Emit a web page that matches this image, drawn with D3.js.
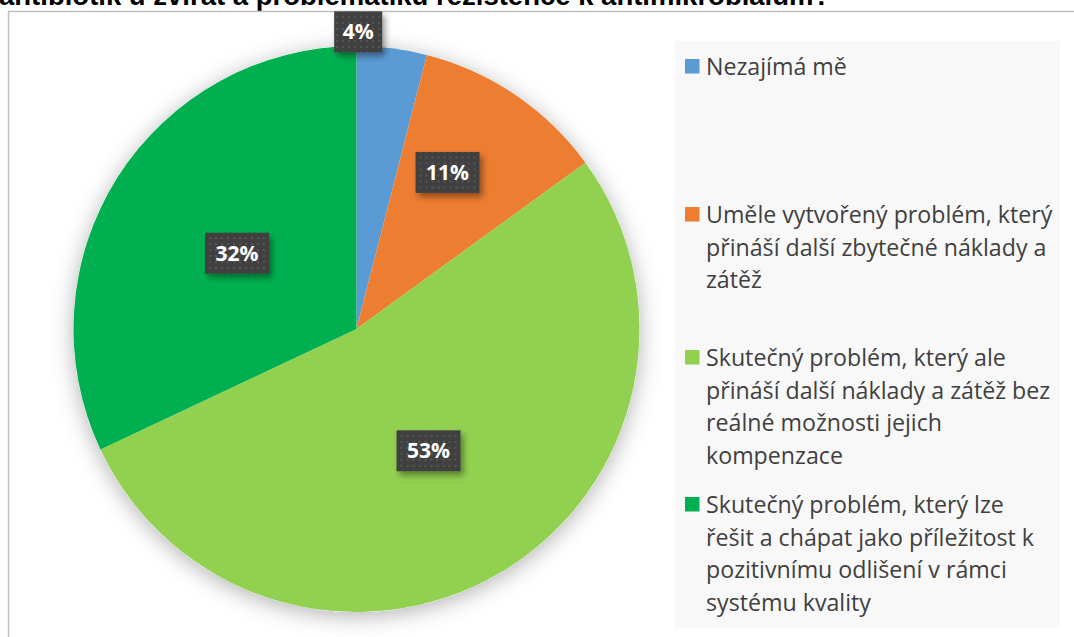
<!DOCTYPE html>
<html>
<head>
<meta charset="utf-8">
<script src="https://cdn.jsdelivr.net/npm/d3@7"></script>
<style>
  html, body { margin: 0; padding: 0; background: #ffffff; }
  svg { display: block; }
</style>
</head>
<body>
<svg id="chart" width="1074" height="637"></svg>
<script>
// ---- data ----
const categories = [
  "Nezajímá mě",
  "Uměle vytvořený problém, který přináší další zbytečné náklady a zátěž",
  "Skutečný problém, který ale přináší další náklady a zátěž bez reálné možnosti jejich kompenzace",
  "Skutečný problém, který lze řešit a chápat jako příležitost k pozitivnímu odlišení v rámci systému kvality"
];
const legendLines = [
  ["Nezajímá mě"],
  ["Uměle vytvořený problém, který", "přináší další zbytečné náklady a", "zátěž"],
  ["Skutečný problém, který ale", "přináší další náklady a zátěž bez", "reálné možnosti jejich", "kompenzace"],
  ["Skutečný problém, který lze", "řešit a chápat jako příležitost k", "pozitivnímu odlišení v rámci", "systému kvality"]
];
const values = [4, 11, 53, 32];
const valueLabels = ["4%", "11%", "53%", "32%"];
const colors = ["#5B9BD5", "#ED7D31", "#92D050", "#00B050"];
const titleText = "antibiotik u zvířat a problematiku rezistence k antimikrobiálům?";

// ---- layout ----
const svg = d3.select("#chart");
const cx = 356.5, cy = 329, R = 283;

const defs = svg.append("defs");
const shadow = defs.append("filter").attr("id", "pieShadow")
  .attr("x", "-20%").attr("y", "-20%").attr("width", "140%").attr("height", "140%");
shadow.append("feDropShadow").attr("dx", 0).attr("dy", 4)
  .attr("stdDeviation", 11).attr("flood-color", "#000").attr("flood-opacity", 0.3);

const lblShadow = defs.append("filter").attr("id", "lblShadow")
  .attr("x", "-30%").attr("y", "-30%").attr("width", "170%").attr("height", "170%");
lblShadow.append("feDropShadow").attr("dx", 3).attr("dy", 4)
  .attr("stdDeviation", 3).attr("flood-color", "#000").attr("flood-opacity", 0.4);

const pat = defs.append("pattern").attr("id", "dots")
  .attr("patternUnits", "userSpaceOnUse").attr("width", 6).attr("height", 6);
pat.append("rect").attr("width", 6).attr("height", 6).attr("fill", "#3f3f3f");
pat.append("rect").attr("x", 2).attr("y", 2).attr("width", 2).attr("height", 2).attr("fill", "#575757");

// title (cut off at top, as in the source)
svg.append("text")
  .attr("x", -1).attr("y", 5)
  .attr("font-family", "'Liberation Sans', Arial, sans-serif")
  .attr("font-weight", "bold").attr("font-size", 27.5)
  .attr("fill", "#000")
  .text(titleText);

// frame
svg.append("path")
  .attr("d", "M8.5,637 L8.5,11.5 L1074,11.5")
  .attr("fill", "none").attr("stroke", "#bfbfbf").attr("stroke-width", 1.5);

// legend background
svg.append("rect").attr("x", 675).attr("y", 41).attr("width", 385).attr("height", 587)
  .attr("fill", "#f8f8f8");

// pie
const pie = d3.pie().sort(null).value(d => d);
const arcs = pie(values);
const arc = d3.arc().innerRadius(0).outerRadius(R);

const g = svg.append("g").attr("transform", `translate(${cx},${cy})`);
g.append("circle").attr("r", R).attr("fill", "#ffffff").attr("filter", "url(#pieShadow)");
g.selectAll("path.slice").data(arcs).enter().append("path")
  .attr("class", "slice")
  .attr("d", arc)
  .attr("fill", (d, i) => colors[i]);

// data labels
const labelRadius = [1.05, 0.64, 0.5, 0.5];
const labelAngleShift = [-0.12, -0.07, 0, 0];
const lg = g.append("g");
arcs.forEach((d, i) => {
  const a = (d.startAngle + d.endAngle) / 2 + labelAngleShift[i];
  const r = R * labelRadius[i];
  const x = r * Math.sin(a), y = -r * Math.cos(a);
  const t = valueLabels[i];
  const w = t.length === 2 ? 48 : 64, h = 41;
  const bx = lg.append("g").attr("transform", `translate(${x},${y})`);
  bx.append("rect").attr("x", -w / 2).attr("y", -h / 2).attr("width", w).attr("height", h)
    .attr("fill", "url(#dots)").attr("filter", "url(#lblShadow)");
  bx.append("text").attr("text-anchor", "middle").attr("y", 7.5)
    .attr("font-family", "'Open Sans', sans-serif").attr("font-weight", "bold")
    .attr("font-size", 21).attr("fill", "#ffffff")
    .text(t);
});

// legend
const legendFirstBaseline = [75, 223, 366, 513];
const lineH = 32.6;
const leg = svg.append("g");
legendLines.forEach((lines, i) => {
  const yb = legendFirstBaseline[i];
  leg.append("rect").attr("x", 685).attr("y", yb - 16).attr("width", 14.5).attr("height", 14.5)
    .attr("fill", colors[i]);
  const txt = leg.append("text")
    .attr("font-family", "'Open Sans', sans-serif").attr("font-size", 23.2)
    .attr("fill", "#404040");
  lines.forEach((ln, j) => {
    txt.append("tspan").attr("x", 706).attr("y", yb + j * lineH).text(ln);
  });
});
</script>
</body>
</html>
